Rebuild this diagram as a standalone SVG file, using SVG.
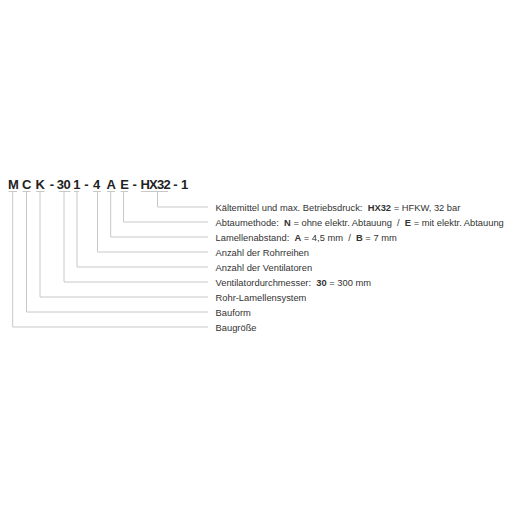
<svg xmlns="http://www.w3.org/2000/svg" width="510" height="510" viewBox="0 0 510 510">
<style>
.code{font-family:"Liberation Sans",Arial,sans-serif;font-weight:bold;font-size:13px;fill:#222;text-anchor:middle}
.lbl{font-family:"Liberation Sans",Arial,sans-serif;font-size:9.35px;fill:#333}
.b{font-weight:bold}
.ln{fill:none;stroke:#c8c8c8;stroke-width:1}
</style>
<rect width="510" height="510" fill="#fff"/>
<g id="code">
<text class="code" y="188.7"><tspan x="13.3">M</tspan><tspan x="26.7">C</tspan><tspan x="40.3">K</tspan><tspan x="52">-</tspan><tspan x="63.6" letter-spacing="-0.3">30</tspan><tspan x="76.8">1</tspan><tspan x="86.3">-</tspan><tspan x="96.6">4</tspan><tspan x="111.2">A</tspan><tspan x="124.5">E</tspan><tspan x="134.7">-</tspan><tspan x="155.3" letter-spacing="-0.7">HX32</tspan><tspan x="175.5">-</tspan><tspan x="184.5">1</tspan></text>
</g>
<g id="connectors">
<path class="ln" d="M8.5 191.5H17M12.7 191.5V327H208"/>
<path class="ln" d="M22.5 191.5H30.5M26.5 191.5V312H208"/>
<path class="ln" d="M36 191.5H44.5M40 191.5V297H208"/>
<path class="ln" d="M59 191.5H70.5M64 191.5V282H208"/>
<path class="ln" d="M74 191.5H79M77 191.5V267H208"/>
<path class="ln" d="M93 191.5H101M97.5 191.5V252H208"/>
<path class="ln" d="M107 191.5H115M110.7 191.5V237H208"/>
<path class="ln" d="M120.5 191.5H128M123.5 191.5V222H208"/>
<path class="ln" d="M141 191.5H168M157.5 191.5V207H208"/>
</g>
<g id="labels">
<text class="lbl" x="215.5" y="210.5" xml:space="preserve">Kältemittel und max. Betriebsdruck:  <tspan class="b">HX32</tspan> = HFKW, 32 bar</text>
<text class="lbl" x="215.5" y="225.5" xml:space="preserve">Abtaumethode:  <tspan class="b">N</tspan> = ohne elektr. Abtauung  /  <tspan class="b">E</tspan> = mit elektr. Abtauung</text>
<text class="lbl" x="215.5" y="240.5" xml:space="preserve">Lamellenabstand:  <tspan class="b">A</tspan> = 4,5 mm  /  <tspan class="b">B</tspan> = 7 mm</text>
<text class="lbl" x="215.5" y="255.5">Anzahl der Rohrreihen</text>
<text class="lbl" x="215.5" y="270.5">Anzahl der Ventilatoren</text>
<text class="lbl" x="215.5" y="285.5" xml:space="preserve">Ventilatordurchmesser:  <tspan class="b">30</tspan> = 300 mm</text>
<text class="lbl" x="215.5" y="300.5">Rohr-Lamellensystem</text>
<text class="lbl" x="215.5" y="315.5">Bauform</text>
<text class="lbl" x="215.5" y="330.5">Baugröße</text>
</g>
</svg>
